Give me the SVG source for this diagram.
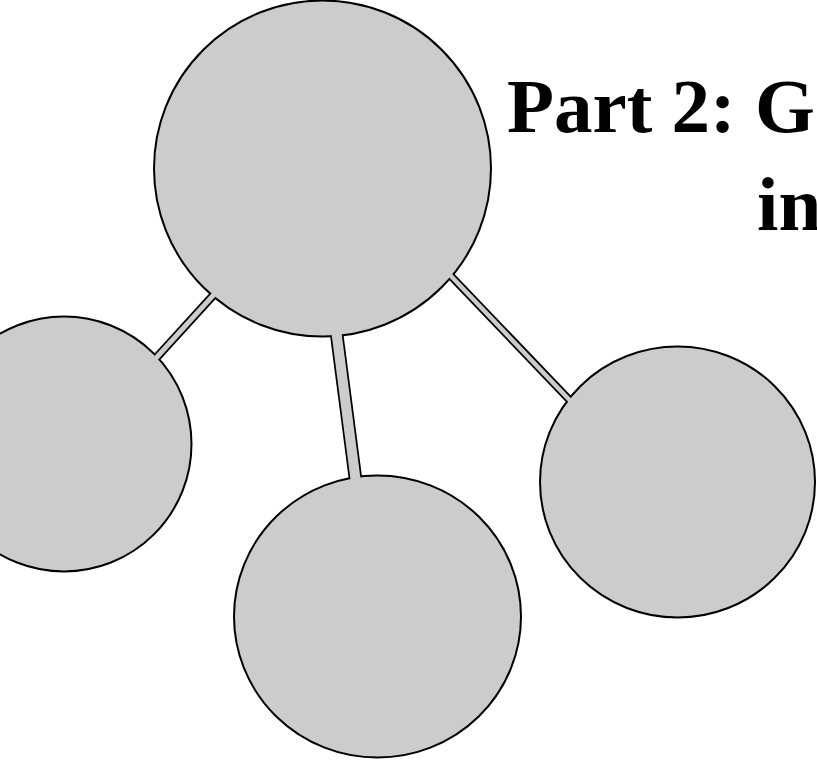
<svg xmlns="http://www.w3.org/2000/svg" width="817" height="763" viewBox="0 0 817 763">
<style>
.node{fill:#cccccc;stroke:#000;stroke-width:2}
.edge-out{stroke:#000;stroke-linecap:butt;fill:none}
.edge-in{stroke:#cccccc;stroke-linecap:butt;fill:none}
.title{font-family:"Liberation Serif","Times New Roman",serif;font-weight:bold;font-size:77px;fill:#000}
</style>
<rect width="817" height="763" fill="#fff"/>
<g id="connectors-outline">
<line class="edge-out" x1="225.5" y1="281.9" x2="143.5" y2="371.8" stroke-width="8.5"/>
<line class="edge-out" x1="334.4" y1="317" x2="357.6" y2="495" stroke-width="13.5"/>
<line class="edge-out" x1="438" y1="262.5" x2="582" y2="413" stroke-width="8"/>
</g>
<g id="node-top"><ellipse class="node" cx="322.5" cy="168.5" rx="168.5" ry="168"/></g>
<g id="node-left"><ellipse class="node" cx="64" cy="444" rx="127.5" ry="127.5"/></g>
<g id="node-bottom"><ellipse class="node" cx="377.5" cy="616.5" rx="143.5" ry="141"/></g>
<g id="node-right"><ellipse class="node" cx="677.5" cy="482" rx="137.5" ry="135.5"/></g>
<g id="connectors">
<line class="edge-in" x1="225.5" y1="281.9" x2="143.5" y2="371.8" stroke-width="5"/>
<line class="edge-in" x1="334.4" y1="317" x2="357.6" y2="495" stroke-width="10"/>
<line class="edge-in" x1="438" y1="262.5" x2="582" y2="413" stroke-width="4.5"/>
</g>
<g id="title">
<text class="title" x="507" y="132">Part 2: G</text>
<text class="title" x="757" y="230">in</text>
</g>
</svg>
